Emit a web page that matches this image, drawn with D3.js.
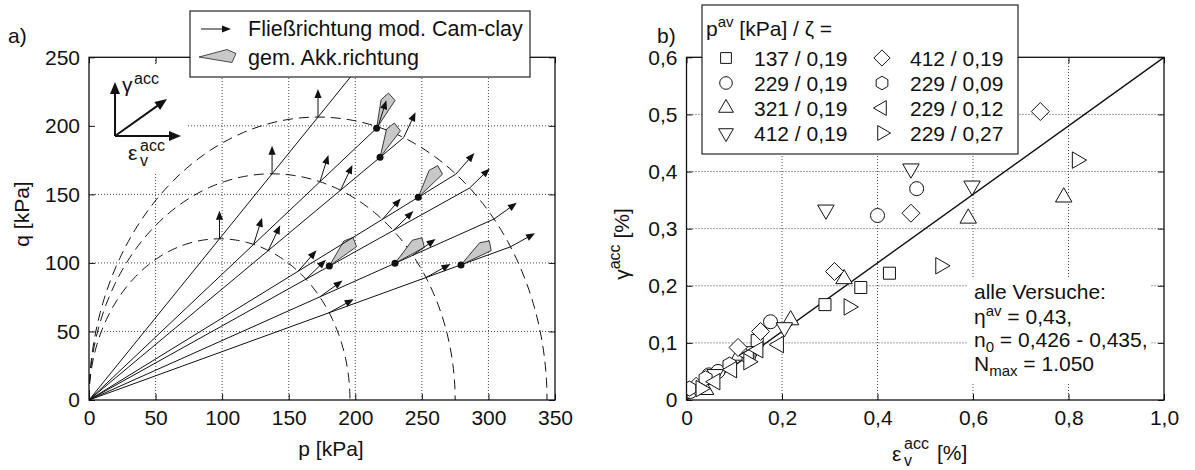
<!DOCTYPE html>
<html><head><meta charset="utf-8">
<script src="https://cdn.jsdelivr.net/npm/d3@7"></script>
<style>
body{margin:0;background:#fff}
text{font-family:"Liberation Sans",Arial,Helvetica,sans-serif;fill:#111}
</style>
</head><body>
<svg id="c" width="1195" height="470"></svg>
<script>
// ---------------- data: panel a) ----------------
const csM = 1.2;                                   // slope of critical state line
const yieldP0 = [196, 275, 344];                   // yield surfaces (mod. Cam-clay), p0 in kPa
const pathEta = [1.2, 0.918, 0.81, 0.598, 0.541, 0.434, 0.353]; // stress ratios of the paths
const testP = [216, 218.6, 247.3, 180.5, 229.8, 279.4];
const testQ = [198.2, 177, 147.9, 97.7, 99.7, 98.5];
const measAngle = [66, 62, 53, 45, 38, 35];        // measured accumulation direction (deg)
const pTicks = [0, 50, 100, 150, 200, 250, 300, 350];
const qTicks = [0, 50, 100, 150, 200, 250];
const legendA = ["Fließrichtung mod. Cam-clay", "gem. Akk.richtung"];

// ---------------- data: panel b) ----------------
const seriesNames = ["137 / 0,19", "229 / 0,19", "321 / 0,19", "412 / 0,19",
                     "412 / 0,19", "229 / 0,09", "229 / 0,12", "229 / 0,27"];
const seriesSymbols = ["square", "circle", "triUp", "triDown", "diamond", "hexagon", "triLeft", "triRight"];
const sSquare   = [[0.015,0.02],[0.05,0.038],[0.148,0.104],[0.29,0.167],[0.365,0.197],[0.425,0.222]];
const sCircle   = [[0.008,0.015],[0.047,0.044],[0.066,0.05],[0.176,0.137],[0.40,0.323],[0.482,0.37]];
const sTriUp    = [[0.04,0.018],[0.11,0.078],[0.218,0.14],[0.33,0.212],[0.59,0.318],[0.79,0.355]];
const sTriDown  = [[0.06,0.045],[0.14,0.085],[0.205,0.127],[0.292,0.333],[0.47,0.405],[0.598,0.375]];
const sDiamond  = [[0.02,0.024],[0.108,0.092],[0.155,0.12],[0.31,0.225],[0.47,0.327],[0.741,0.505]];
const sHexagon  = [[0.006,0.02],[0.04,0.038],[0.09,0.062],[0.13,0.075]];
const sTriLeft  = [[0.06,0.032],[0.095,0.053],[0.13,0.078],[0.15,0.088],[0.193,0.097]];
const sTriRight = [[0.03,0.02],[0.13,0.067],[0.34,0.163],[0.532,0.235],[0.818,0.42]];
const seriesData = [sSquare, sCircle, sTriUp, sTriDown, sDiamond, sHexagon, sTriLeft, sTriRight];
const fitSlope = 0.6;
const epsTicks = [0, 0.2, 0.4, 0.6, 0.8, 1.0];
const gamTicks = [0, 0.1, 0.2, 0.3, 0.4, 0.5, 0.6];

// ---------------- drawing ----------------
const svg = d3.select("#c");
const FS = 21;
const xA = d3.scaleLinear().domain([0, 350]).range([89, 555]);
const yA = d3.scaleLinear().domain([0, 250]).range([400, 57.3]);
const xB = d3.scaleLinear().domain([0, 1]).range([686.5, 1164]);
const yB = d3.scaleLinear().domain([0, 0.6]).range([400, 57.3]);

function grid(g, x, y, xt, yt) {
  const [x0, x1] = x.range(), [y0, y1] = y.range();
  const gx = xt.filter(v => v !== x.domain()[0] && v !== x.domain()[1]);
  const gy = yt.filter(v => v !== y.domain()[0] && v !== y.domain()[1]);
  const gg = g.append("g").attr("stroke", "#333").attr("stroke-width", 0.9).attr("stroke-dasharray", "1,2");
  gg.selectAll(".vx").data(gx).join("line").attr("x1", d => x(d)).attr("x2", d => x(d)).attr("y1", y0).attr("y2", y1);
  gg.selectAll(".hy").data(gy).join("line").attr("y1", d => y(d)).attr("y2", d => y(d)).attr("x1", x0).attr("x2", x1);
}
function frame(g, x, y, xt, yt, fx, fy) {
  const [x0, x1] = x.range(), [y0, y1] = y.range();
  g.append("g").attr("transform", `translate(0,${y0})`)
    .call(d3.axisBottom(x).tickValues(xt).tickSize(-6).tickPadding(10).tickFormat(fx));
  g.append("g").attr("transform", `translate(0,${y1})`)
    .call(d3.axisTop(x).tickValues(xt).tickSize(-6).tickFormat(""));
  g.append("g").attr("transform", `translate(${x0},0)`)
    .call(d3.axisLeft(y).tickValues(yt).tickSize(-6).tickPadding(9).tickFormat(fy));
  g.append("g").attr("transform", `translate(${x1},0)`)
    .call(d3.axisRight(y).tickValues(yt).tickSize(-6).tickFormat(""));
  g.selectAll(".domain").remove();
  g.selectAll(".tick line").attr("stroke", "#111").attr("stroke-width", 1);
  g.selectAll("g").attr("font-size", null).attr("font-family", null);
  g.selectAll(".tick text").attr("font-size", FS).style("fill", "#111");
  g.append("rect").attr("x", x0).attr("y", y1).attr("width", x1 - x0).attr("height", y0 - y1)
    .attr("fill", "none").attr("stroke", "#111").attr("stroke-width", 1.3);
}
function arrow(g, x0, y0, x1, y1, hl, hw, sw) {
  const dx = x1 - x0, dy = y1 - y0, L = Math.hypot(dx, dy), ux = dx / L, uy = dy / L;
  const bx = x1 - ux * hl, by = y1 - uy * hl;
  g.append("line").attr("x1", x0).attr("y1", y0).attr("x2", bx + ux * 1).attr("y2", by + uy * 1)
    .attr("stroke", "#111").attr("stroke-width", sw);
  g.append("path").attr("d", `M${x1},${y1}L${bx - uy * hw},${by + ux * hw}L${bx + uy * hw},${by - ux * hw}Z`)
    .attr("fill", "#111");
}
const grayShape = [[0, 0], [28, -7.5], [37, -3.5], [33, 5.5]];
function gray(g, x, y, angDeg) {
  g.append("path").attr("d", "M" + grayShape.map(p => p.join(",")).join("L") + "Z")
    .attr("transform", `translate(${x},${y}) rotate(${-angDeg})`)
    .attr("fill", "#c8c8c8").attr("stroke", "#222").attr("stroke-width", 0.8);
}

// ===== panel a =====
const gA = svg.append("g");
grid(gA, xA, yA, pTicks, qTicks);
gA.append("rect").attr("x", 90).attr("y", 65).attr("width", 97).attr("height", 107).attr("fill", "#fff");

svg.append("clipPath").attr("id", "clipA").append("rect")
  .attr("x", 89).attr("y", 57.3).attr("width", 466).attr("height", 342.7);
const dA = gA.append("g").attr("clip-path", "url(#clipA)");

// yield surfaces
const ell = d3.line().x(d => xA(d[0])).y(d => yA(d[1]));
yieldP0.forEach(p0 => {
  const pts = d3.range(0, 181).map(i => {
    const t = i / 180 * Math.PI;
    return [p0 / 2 * (1 - Math.cos(t)), csM * p0 / 2 * Math.sin(t)];
  });
  dA.append("path").attr("d", ell(pts)).attr("fill", "none").attr("stroke", "#111")
    .attr("stroke-width", 1).attr("stroke-dasharray", "10,6");
});
// gray measured directions
testP.forEach((p, i) => gray(dA, xA(p), yA(testQ[i]), measAngle[i]));
// stress paths
const pOuter = d3.max(yieldP0);
pathEta.forEach(eta => {
  let pe = pOuter / (1 + eta * eta / (csM * csM));
  if (eta >= csM) pe = 250 / eta;
  dA.append("line").attr("x1", xA(0)).attr("y1", yA(0)).attr("x2", xA(pe)).attr("y2", yA(eta * pe))
    .attr("stroke", "#111").attr("stroke-width", 1);
});
// flow direction arrows at intersections
pathEta.forEach(eta => {
  const dp = csM * csM - eta * eta, dq = 2 * eta;
  yieldP0.forEach(p0 => {
    const p = p0 / (1 + eta * eta / (csM * csM)), q = eta * p;
    const sx = xA(p), sy = yA(q);
    const vx = xA(dp) - xA(0), vy = yA(dq) - yA(0);
    const L = Math.hypot(vx, vy);
    arrow(dA, sx, sy, sx + vx / L * 28, sy + vy / L * 28, 9, 3.6, 1);
  });
});
// test points
dA.selectAll(".dot").data(testP).join("circle").attr("cx", d => xA(d)).attr("cy", (d, i) => yA(testQ[i]))
  .attr("r", 3.5).attr("fill", "#111");

frame(gA, xA, yA, pTicks, qTicks, d => String(d), d => String(d));

// inset axes symbol
const ins = gA.append("g");
arrow(ins, 115, 136, 115, 82, 12, 5, 2);
arrow(ins, 115, 136, 181, 136, 12, 5, 2);
arrow(ins, 115, 136, 167, 99, 12, 5, 2);
ins.append("text").attr("x", 122).attr("y", 92).attr("font-size", FS).text("γ");
ins.append("text").attr("x", 134).attr("y", 84).attr("font-size", 16).text("acc");
ins.append("text").attr("x", 128).attr("y", 160).attr("font-size", FS).text("ε");
ins.append("text").attr("x", 140).attr("y", 151).attr("font-size", 16).text("acc");
ins.append("text").attr("x", 140).attr("y", 166).attr("font-size", 16).text("v");

// axis titles
gA.append("text").attr("x", 331).attr("y", 456).attr("text-anchor", "middle").attr("font-size", FS).text("p [kPa]");
gA.append("text").attr("transform", "translate(29,214) rotate(-90)").attr("text-anchor", "middle")
  .attr("font-size", FS).text("q [kPa]");
gA.append("text").attr("x", 8).attr("y", 43).attr("font-size", FS).text("a)");

// legend a
const lgA = gA.append("g");
lgA.append("rect").attr("x", 190).attr("y", 11).attr("width", 340).attr("height", 66)
  .attr("fill", "#fff").attr("stroke", "#111").attr("stroke-width", 1.1);
arrow(lgA, 201, 29, 231, 29, 9, 3.6, 1);
gray(lgA, 199, 57, 0);
lgA.selectAll(".lt").data(legendA).join("text").attr("x", 248).attr("y", (d, i) => 36 + i * 29)
  .attr("font-size", FS + 0.5).text(d => d);

// ===== panel b =====
const gB = svg.append("g");
grid(gB, xB, yB, epsTicks, gamTicks);
gB.append("rect").attr("x", 968).attr("y", 279).attr("width", 182).attr("height", 105).attr("fill", "#fff");

svg.append("clipPath").attr("id", "clipB").append("rect")
  .attr("x", 686.5).attr("y", 57.3).attr("width", 477.5).attr("height", 342.7);
const dB = gB.append("g").attr("clip-path", "url(#clipB)");
dB.append("line").attr("x1", xB(0)).attr("y1", yB(0)).attr("x2", xB(1)).attr("y2", yB(fitSlope * 1))
  .attr("stroke", "#111").attr("stroke-width", 1.4);

function sym(type) {
  const R = 9.5, h = R * Math.sqrt(3) / 2, c = R / 2;
  switch (type) {
    case "square": return "M-6,-6h12v12h-12Z";
    case "circle": return "M7,0A7,7 0 1,1 -7,0A7,7 0 1,1 7,0Z";
    case "triUp": return `M0,${-R}L${h},${c}L${-h},${c}Z`;
    case "triDown": return `M0,${R}L${h},${-c}L${-h},${-c}Z`;
    case "triLeft": return `M${-R},0L${c},${-h}L${c},${h}Z`;
    case "triRight": return `M${R},0L${-c},${-h}L${-c},${h}Z`;
    case "diamond": return "M0,-9L9,0L0,9L-9,0Z";
    case "hexagon": {
      const r = 7.5;
      return "M" + d3.range(6).map(k => {
        const a = Math.PI / 2 + k * Math.PI / 3;
        return [r * Math.cos(a), -r * Math.sin(a)].join(",");
      }).join("L") + "Z";
    }
  }
}
seriesData.forEach((ser, si) => {
  dB.selectAll(".s" + si).data(ser).join("path")
    .attr("d", sym(seriesSymbols[si]))
    .attr("transform", d => `translate(${xB(d[0])},${yB(d[1])})`)
    .attr("fill", "#fff").attr("stroke", "#111").attr("stroke-width", 1);
});

const fmtC = d => d === 0 ? "0" : d3.format(".1f")(d).replace(".", ",");
frame(gB, xB, yB, epsTicks, gamTicks, fmtC, fmtC);

// annotation
const ann = gB.append("g").attr("font-size", FS);
ann.append("text").attr("x", 974).attr("y", 299).text("alle Versuche:");
const t2 = ann.append("text").attr("x", 974).attr("y", 324);
t2.append("tspan").text("η");
t2.append("tspan").attr("dy", -8).attr("font-size", 15).text("av");
t2.append("tspan").attr("dy", 8).text(" = 0,43,");
const t3 = ann.append("text").attr("x", 974).attr("y", 347);
t3.append("tspan").text("n");
t3.append("tspan").attr("dy", 5).attr("font-size", 15).text("0");
t3.append("tspan").attr("dy", -5).text(" = 0,426 - 0,435,");
const t4 = ann.append("text").attr("x", 974).attr("y", 371);
t4.append("tspan").text("N");
t4.append("tspan").attr("dy", 5).attr("font-size", 15).text("max");
t4.append("tspan").attr("dy", -5).text(" = 1.050");

// axis titles b
gB.append("text").attr("x", 892).attr("y", 461).attr("font-size", FS).text("ε");
gB.append("text").attr("x", 904).attr("y", 449).attr("font-size", 16).text("acc");
gB.append("text").attr("x", 904).attr("y", 466).attr("font-size", 16).text("v");
gB.append("text").attr("x", 937).attr("y", 460).attr("font-size", FS).text("[%]");
const yl = gB.append("text").attr("transform", "translate(629,244) rotate(-90)").attr("text-anchor", "middle")
  .attr("font-size", FS);
yl.append("tspan").text("γ");
yl.append("tspan").attr("dy", -9).attr("font-size", 16).text("acc");
yl.append("tspan").attr("dy", 9).text(" [%]");
gB.append("text").attr("x", 657).attr("y", 43).attr("font-size", FS).text("b)");

// legend b
const lgB = gB.append("g");
lgB.append("rect").attr("x", 702).attr("y", 5).attr("width", 316).attr("height", 149)
  .attr("fill", "#fff").attr("stroke", "#111").attr("stroke-width", 1.1);
const lt = lgB.append("text").attr("x", 706).attr("y", 36).attr("font-size", FS);
lt.append("tspan").text("p");
lt.append("tspan").attr("dy", -9).attr("font-size", 15).text("av");
lt.append("tspan").attr("dy", 9).text(" [kPa] / ζ =");
seriesNames.forEach((nm, i) => {
  const col = Math.floor(i / 4), row = i % 4;
  const cy = 58 + row * 25;
  lgB.append("path").attr("d", sym(seriesSymbols[i]))
    .attr("transform", `translate(${726 + col * 156},${cy}) scale(0.9)`)
    .attr("fill", "#fff").attr("stroke", "#111").attr("stroke-width", 1.1);
  lgB.append("text").attr("x", 754 + col * 156).attr("y", cy + 7.5).attr("font-size", FS).text(nm);
});
</script>
</body></html>
